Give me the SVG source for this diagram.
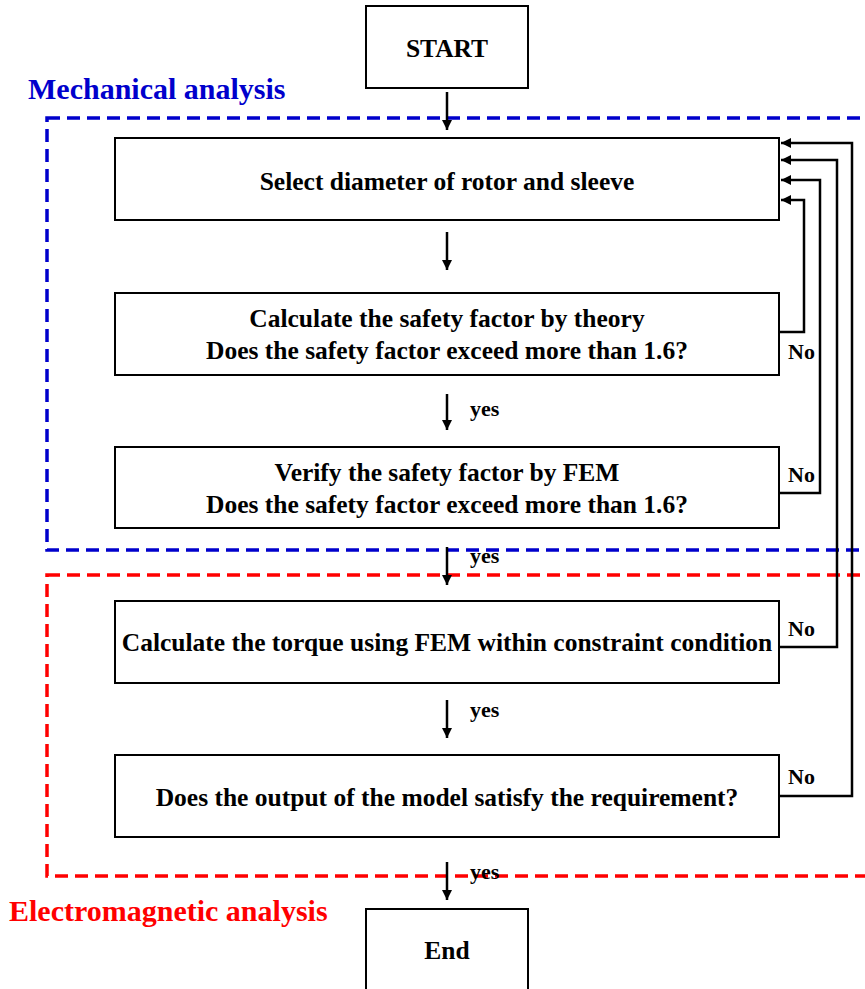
<svg xmlns="http://www.w3.org/2000/svg" width="865" height="989" viewBox="0 0 865 989">
<defs>
<style>
.box{fill:#fff;stroke:#000;stroke-width:2}
.t{font-family:"Liberation Serif","Times New Roman",serif;font-weight:bold;font-size:25.5px;text-anchor:middle;fill:#000}
.lbl{font-family:"Liberation Serif","Times New Roman",serif;font-weight:bold;font-size:22px;fill:#000}
.yes{font-family:"Liberation Serif","Times New Roman",serif;font-weight:bold;font-size:22px;fill:#000}
.ln{fill:none;stroke:#000;stroke-width:2.5}
.title{font-family:"Liberation Serif","Times New Roman",serif;font-weight:bold;font-size:30px}
</style>
<marker id="ah" viewBox="0 0 10 10" refX="10" refY="5" markerWidth="10" markerHeight="10" markerUnits="userSpaceOnUse" orient="auto">
<path d="M0,0 L10,5 L0,10 z" fill="#000"/>
</marker>
</defs>
<rect width="865" height="989" fill="#fff"/>
<g id="regions">
<rect x="47" y="118" width="830" height="432" fill="none" stroke="#0000CC" stroke-width="3.5" stroke-dasharray="13,7"/>
<rect x="47" y="575" width="830" height="301" fill="none" stroke="#FF0000" stroke-width="3.5" stroke-dasharray="13,7"/>
<text class="title" x="28" y="99" fill="#0000CC">Mechanical analysis</text>
<text class="title" x="9" y="921" fill="#FF0000">Electromagnetic analysis</text>
</g>
<g id="start"><rect class="box" x="366" y="6" width="162" height="82"/><text class="t" x="447" y="57">START</text></g>
<g id="select"><rect class="box" x="115" y="138" width="664" height="82"/><text class="t" x="447" y="190">Select diameter of rotor and sleeve</text></g>
<g id="theory"><rect class="box" x="115" y="293" width="664" height="82"/><text class="t" x="447" y="327">Calculate the safety factor by theory</text><text class="t" x="447" y="359">Does the safety factor exceed more than 1.6?</text></g>
<g id="fem"><rect class="box" x="115" y="447" width="664" height="81"/><text class="t" x="447" y="481">Verify the safety factor by FEM</text><text class="t" x="447" y="513">Does the safety factor exceed more than 1.6?</text></g>
<g id="torque"><rect class="box" x="115" y="601" width="664" height="82"/><text class="t" x="447" y="651">Calculate the torque using FEM within constraint condition</text></g>
<g id="output"><rect class="box" x="115" y="755" width="664" height="82"/><text class="t" x="447" y="806">Does the output of the model satisfy the requirement?</text></g>
<g id="end"><rect class="box" x="366" y="909" width="162" height="90"/><text class="t" x="447" y="959">End</text></g>
<g id="connectors">
<line class="ln" x1="447" y1="92" x2="447" y2="130" marker-end="url(#ah)"/>
<line class="ln" x1="447" y1="232" x2="447" y2="270" marker-end="url(#ah)"/>
<line class="ln" x1="447" y1="394" x2="447" y2="430" marker-end="url(#ah)"/>
<line class="ln" x1="447" y1="547" x2="447" y2="585" marker-end="url(#ah)"/>
<line class="ln" x1="447" y1="700" x2="447" y2="738" marker-end="url(#ah)"/>
<line class="ln" x1="447" y1="862" x2="447" y2="900" marker-end="url(#ah)"/>
<polyline class="ln" points="779,332 804,332 804,200 781,200" marker-end="url(#ah)"/>
<polyline class="ln" points="779,493 820,493 820,180 781,180" marker-end="url(#ah)"/>
<polyline class="ln" points="779,647 837,647 837,160 781,160" marker-end="url(#ah)"/>
<polyline class="ln" points="779,796 852,796 852,143 781,143" marker-end="url(#ah)"/>
<text class="lbl" x="788" y="359">No</text>
<text class="lbl" x="788" y="482">No</text>
<text class="lbl" x="788" y="636">No</text>
<text class="lbl" x="788" y="784">No</text>
<text class="yes" x="470" y="416">yes</text>
<text class="yes" x="470" y="563">yes</text>
<text class="yes" x="470" y="717">yes</text>
<text class="yes" x="470" y="879">yes</text>
</g>
</svg>
